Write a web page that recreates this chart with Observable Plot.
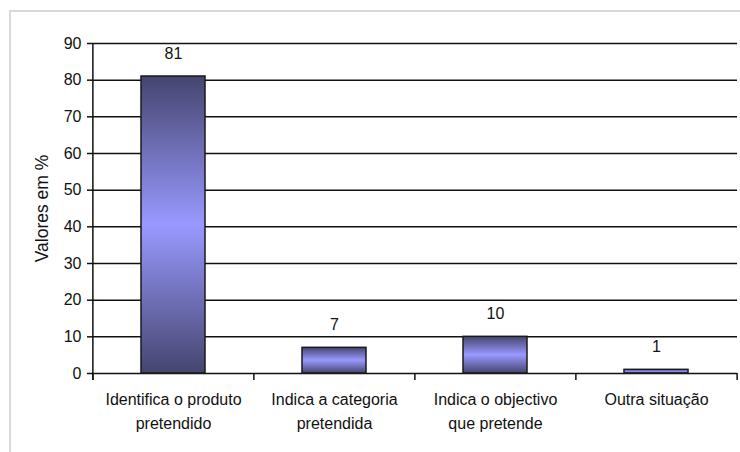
<!DOCTYPE html>
<html><head><meta charset="utf-8">
<script src="https://cdn.jsdelivr.net/npm/d3@7"></script>
<script src="https://cdn.jsdelivr.net/npm/@observablehq/plot@0.6"></script>
<style>
body{margin:0;background:#fff;font-family:"Liberation Sans",Arial,sans-serif;}
#wrap{position:relative;width:740px;height:452px;overflow:hidden;}
#border{position:absolute;left:9px;top:10px;width:740px;height:460px;border:2px solid #d9d9d9;box-sizing:border-box;pointer-events:none;}
#wrap svg{position:absolute;left:0;top:0;}
</style></head>
<body><div id="wrap"><div id="border"></div></div>
<script>
const categories = ["Identifica o produto\npretendido","Indica a categoria\npretendida","Indica o objectivo\nque pretende","Outra situação"];
const values = [81, 7, 10, 1];
const yTicks = [0,10,20,30,40,50,60,70,80,90];
const yLabel = "Valores em %";

const data = categories.map((c,i)=>({category:c, value:values[i]}));
const W=740,H=452,ML=92,MR=3,MT=43,MB=79;
const step=(W-ML-MR)/categories.length;
const font="Liberation Sans, Arial, sans-serif";

const chart = Plot.plot({
  width:W,height:H,marginLeft:ML,marginRight:MR,marginTop:MT,marginBottom:MB,
  style:{fontFamily:font,color:"#111",background:"transparent",overflow:"visible"},
  x:{domain:categories,paddingInner:0.6,paddingOuter:0.3,label:null},
  y:{domain:[0,90],label:null},
  marks:[
    Plot.gridY(yTicks,{stroke:"#111",strokeOpacity:1,strokeWidth:1.5}),
    Plot.axisY(yTicks,{tickSize:5,tickPadding:6,fontSize:16,label:null,strokeWidth:1.5}),
    Plot.text([yLabel],{frameAnchor:"left",textAnchor:"middle",rotate:-90,dx:-50,fontSize:17.5,fill:"#111"}),
    Plot.axisX({tickSize:0,tickPadding:14,fontSize:16,lineHeight:1.5,label:null}),
    Plot.ruleX(categories,{x:d=>d,y1:0,insetBottom:-7,dx:-step/2,stroke:"#111",strokeWidth:1.5}),
    Plot.ruleX([categories[categories.length-1]],{x:d=>d,y1:0,insetBottom:-7,dx:step/2,stroke:"#111",strokeWidth:1.5}),
    Plot.ruleX([categories[0]],{x:d=>d,y1:90,y2:0,insetBottom:-7,dx:-step/2,stroke:"#111",strokeWidth:1.5}),
    Plot.barY(data,{x:"category",y:"value",fill:"url(#barGrad)",stroke:"#1a1a1a",strokeWidth:1.5}),
    Plot.text(data,{x:"category",y:"value",text:"value",dy:-23,fontSize:16,fill:"#111"})
  ]
});
const defs = d3.select(chart).insert("defs",":first-child");
const g = defs.append("linearGradient").attr("id","barGrad").attr("x1",0).attr("y1",0).attr("x2",0).attr("y2",1);
g.append("stop").attr("offset","0%").attr("stop-color","#45456f");
g.append("stop").attr("offset","50%").attr("stop-color","#9999ff");
g.append("stop").attr("offset","100%").attr("stop-color","#45456f");
document.getElementById("wrap").appendChild(chart);
</script>
</body></html>
